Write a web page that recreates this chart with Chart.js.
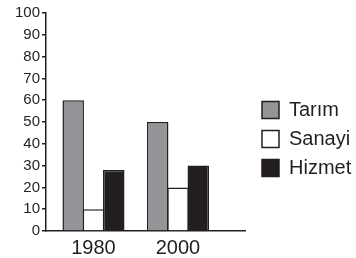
<!DOCTYPE html>
<html>
<head>
<meta charset="utf-8">
<script src="https://cdn.jsdelivr.net/npm/chart.js@4/dist/chart.umd.min.js"></script>
<style>
  html, body { margin: 0; padding: 0; background: #fff; }
  #wrap { width: 356px; height: 258px; position: relative; }
</style>
</head>
<body>
<div id="wrap"><canvas id="myChart"></canvas></div>
<script>
var years = ["1980", "2000"];
var tarim = [60, 50];
var sanayi = [10, 20];
var hizmet = [28, 30];
var yTicks = [0, 10, 20, 30, 40, 50, 60, 70, 80, 90, 100];

var ink = "#231f20";

// bars sit on a linear x scale so the axis can run past the last group
function pts(vals) {
  return vals.map(function (v, i) { return { x: i, y: v }; });
}

var ctx = document.getElementById("myChart");
var myChart = new Chart(ctx, {
  type: "bar",
  data: {
    datasets: [
      { label: "Tarım", data: pts(tarim), backgroundColor: "#939598" },
      { label: "Sanayi", data: pts(sanayi), backgroundColor: "#ffffff" },
      { label: "Hizmet", data: pts(hizmet), backgroundColor: ink },
    ].map(function (d) {
      d.borderColor = ink;
      d.borderWidth = 1.5;
      d.categoryPercentage = 0.72;
      d.barPercentage = 1.06; // neighbours share their edge lines
      return d;
    }),
  },
  options: {
    responsive: true,
    maintainAspectRatio: false,
    animation: false,
    layout: { padding: { top: 13, right: 0, bottom: 0, left: 0 } },
    plugins: {
      tooltip: { enabled: false },
      legend: {
        position: "right",
        maxWidth: 103,
        title: { display: true, text: "", font: { size: 1 }, padding: { top: 6, bottom: 0 } },
        labels: {
          boxWidth: 17,
          boxHeight: 17,
          padding: 9,
          color: ink,
          font: { family: "'Liberation Sans', Arial, sans-serif", size: 20 },
        },
      },
    },
    scales: {
      x: {
        type: "linear",
        offset: false,
        min: -0.562,
        max: 1.793,
        afterBuildTicks: function (s) {
          s.ticks = years.map(function (y, i) { return { value: i }; });
        },
        afterFit: function (s) { s.height = 27; },
        ticks: {
          padding: 5,
          color: ink,
          font: { family: "'Liberation Sans', Arial, sans-serif", size: 20 },
          callback: function (v) { return years[v]; },
        },
        grid: { display: false, drawTicks: false },
        border: { color: ink, width: 1.5 },
      },
      y: {
        min: 0,
        max: 100,
        afterBuildTicks: function (s) {
          s.ticks = yTicks.map(function (v) { return { value: v }; });
        },
        afterFit: function (s) { s.width = 46; },
        ticks: {
          padding: 2,
          color: ink,
          font: { family: "'Liberation Sans', Arial, sans-serif", size: 15 },
        },
        grid: { drawOnChartArea: false, tickLength: 4, color: ink, lineWidth: 1.5 },
        border: { color: ink, width: 1.5 },
      },
      gap: {
        // empty axis, only keeps the legend off the plot
        position: "right",
        display: true,
        afterFit: function (s) { s.width = 8; },
        ticks: { display: false },
        grid: { display: false, drawTicks: false },
        border: { display: false },
      },
    },
  },
});
</script>
</body>
</html>
